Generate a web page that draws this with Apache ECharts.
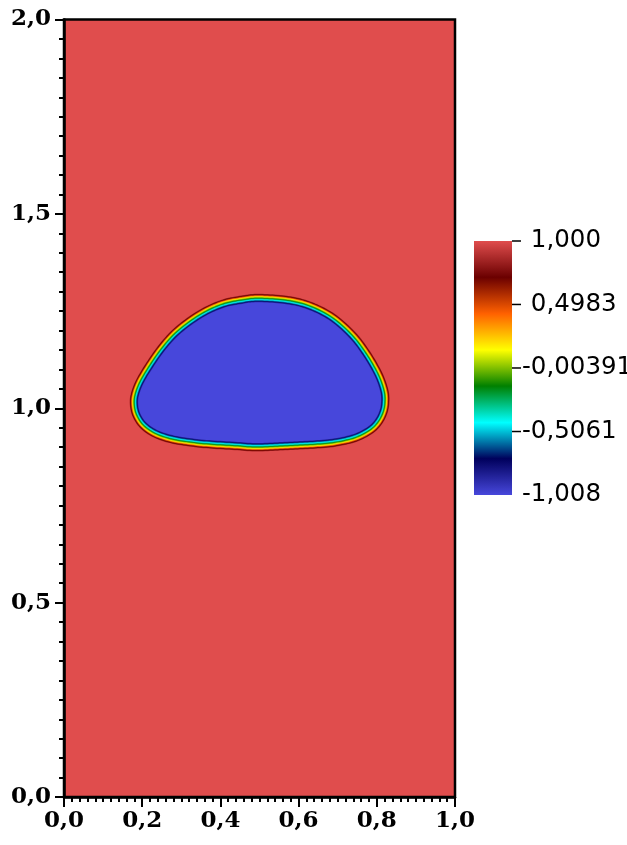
<!DOCTYPE html>
<html><head><meta charset="utf-8">
<script src="https://cdn.jsdelivr.net/npm/echarts@6/dist/echarts.min.js"></script>
<style>html,body{margin:0;padding:0;background:#fff}#c{width:627px;height:845px}</style>
</head><body><div id="c"></div>
<script>
// ---- data ----
const xRange = [0, 1];
const yRange = [0, 2];
const fieldOutside = 1.0;      // value outside the bubble
const fieldInside = -1.008;    // value inside the bubble
// interface contour of the bubble
const bubbleX = [0.4885,0.5396,0.5908,0.6335,0.6760,0.7102,0.7442,0.7698,0.7910,0.8082,0.8192,0.8210,0.8166,0.8038,0.7826,0.7442,0.6931,0.6419,0.5908,0.5396,0.4885,
  0.4373,0.3777,0.3266,0.2754,0.2327,0.2028,0.1859,0.1798,0.1816,0.1944,0.2199,0.2499,0.2839,0.3266,0.3691,0.4118,0.4545];
const bubbleY = [1.2828,1.2810,1.2741,1.2612,1.2399,1.2141,1.1799,1.1455,1.1113,1.0770,1.0426,1.0168,0.9911,0.9654,0.9441,0.9243,0.9124,0.9073,0.9047,0.9021,0.9003,
  0.9037,0.9073,0.9124,0.9209,0.9356,0.9569,0.9826,1.0084,1.0341,1.0683,1.1113,1.1542,1.1928,1.2270,1.2527,1.2700,1.2785];
// values across the thin interface band (outside -> inside)
const bandValues = [0.85,0.72,0.65,0.50,0.35,0.20,0.08,0.0,-0.10,-0.20,-0.30,-0.42,-0.50,-0.58,-0.68,-0.78,-0.88,-1.008];
// colour bar
const cbarMin = -1.008, cbarMax = 1.0;
const cbarTickValues = [1.0, 0.4983, -0.00391, -0.5061, -1.008];
const cbarTickLabels = ['1,000', '0,4983', '-0,00391', '-0,5061', '-1,008'];
const cbarTickShown = [true, true, true, true, false];
// colormap (Rainbow Desaturated)
const cmapPos = [0, 0.143, 0.285, 0.429, 0.571, 0.714, 0.857, 1.0];
const cmapRGB = [[71,71,219],[0,0,92],[0,255,255],[0,128,0],[255,255,0],[255,97,0],[107,0,0],[224,77,77]];

// ---- styling ----
const bandOffsetsPx = [4.5,4,3.5,3,2.5,2,1.5,1,0.5,0,-0.5,-1,-1.5,-2,-2.5,-3,-3.5,-4];
const serif = 'DejaVu Serif';
const cbFont = '24.5px "DejaVu Sans"';

function colorOf(v){
  let t = (v - cbarMin) / (cbarMax - cbarMin);
  t = Math.max(0, Math.min(1, t));
  for (let i = 0; i < cmapPos.length - 1; i++){
    if (t <= cmapPos[i+1]){
      const f = (t - cmapPos[i]) / (cmapPos[i+1] - cmapPos[i]);
      const a = cmapRGB[i], b = cmapRGB[i+1];
      return 'rgb(' + [0,1,2].map(k => Math.round(a[k] + (b[k]-a[k])*f)).join(',') + ')';
    }
  }
  const c = cmapRGB[cmapRGB.length-1];
  return 'rgb(' + c.join(',') + ')';
}
// closed Catmull-Rom curve through pixel points (rendering of a smooth outline)
function splineClosed(pts, sub){
  const n = pts.length, out = [];
  for (let i = 0; i < n; i++){
    const p0 = pts[(i-1+n)%n], p1 = pts[i], p2 = pts[(i+1)%n], p3 = pts[(i+2)%n];
    for (let s = 0; s < sub; s++){
      const t = s / sub, t2 = t*t, t3 = t2*t;
      out.push([0,1].map(k => 0.5*((2*p1[k]) + (-p0[k]+p2[k])*t + (2*p0[k]-5*p1[k]+4*p2[k]-p3[k])*t2 + (-p0[k]+3*p1[k]-3*p2[k]+p3[k])*t3)));
    }
  }
  return out;
}
function offsetPoly(pts, d){
  const n = pts.length; let cx = 0, cy = 0;
  pts.forEach(p => { cx += p[0]; cy += p[1]; }); cx /= n; cy /= n;
  return pts.map((p, i) => {
    const a = pts[(i-1+n)%n], b = pts[(i+1)%n];
    const tx = b[0]-a[0], ty = b[1]-a[1]; const L = Math.hypot(tx, ty) || 1;
    let nx = ty/L, ny = -tx/L;
    if (nx*(p[0]-cx) + ny*(p[1]-cy) < 0){ nx = -nx; ny = -ny; }
    return [p[0]+nx*d, p[1]+ny*d];
  });
}
const fmt1 = v => v.toFixed(1).replace('.', ',');
const mctx = document.createElement('canvas').getContext('2d');
mctx.font = cbFont;
const hyphenW = mctx.measureText('-').width;

const chart = echarts.init(document.getElementById('c'), null, {renderer: 'canvas'});
chart.setOption({
  animation: false,
  backgroundColor: '#fff',
  grid: [
    {left: 64, top: 19.5, width: 391, height: 777.5, show: true, z: 10,
     backgroundColor: 'rgba(0,0,0,0)', borderColor: '#000', borderWidth: 2.5},
    {left: 474, top: 241, width: 38, height: 254, show: false}
  ],
  xAxis: [
    {gridIndex: 0, type: 'value', min: xRange[0], max: xRange[1], interval: 0.2, z: 10,
     axisLine: {show: true, onZero: false, lineStyle: {color: '#000', width: 2.5}},
     axisTick: {show: true, length: 10, lineStyle: {color: '#000', width: 2}},
     minorTick: {show: true, splitNumber: 10, length: 5, lineStyle: {color: '#000', width: 2}},
     splitLine: {show: false}, minorSplitLine: {show: false},
     axisLabel: {formatter: fmt1, color: '#000', fontFamily: serif, fontWeight: 'bold', fontSize: 23, margin: 13}},
    {gridIndex: 1, type: 'value', min: 0, max: 1, show: false}
  ],
  yAxis: [
    {gridIndex: 0, type: 'value', min: yRange[0], max: yRange[1], interval: 0.5, z: 10,
     axisLine: {show: true, onZero: false, lineStyle: {color: '#000', width: 2.5}},
     axisTick: {show: true, length: 9, lineStyle: {color: '#000', width: 2}},
     minorTick: {show: true, splitNumber: 10, length: 5, lineStyle: {color: '#000', width: 2}},
     splitLine: {show: false}, minorSplitLine: {show: false},
     axisLabel: {formatter: fmt1, color: '#000', fontFamily: serif, fontWeight: 'bold', fontSize: 23, margin: 13}},
    {gridIndex: 1, type: 'value', min: cbarMin, max: cbarMax, show: false}
  ],
  series: [
    {type: 'custom', xAxisIndex: 0, yAxisIndex: 0, clip: true, z: 2,
     data: [[0.5, 1.0]],
     renderItem: function(params, api){
       const tl = api.coord([xRange[0], yRange[1]]), br = api.coord([xRange[1], yRange[0]]);
       const pts = splineClosed(bubbleX.map((x, i) => api.coord([x, bubbleY[i]])), 8);
       const children = [{type: 'rect', shape: {x: tl[0], y: tl[1], width: br[0]-tl[0], height: br[1]-tl[1]},
                          style: {fill: colorOf(fieldOutside)}}];
       bandOffsetsPx.forEach((d, i) => {
         const v = (i === bandOffsetsPx.length - 1) ? fieldInside : bandValues[i];
         children.push({type: 'polygon', shape: {points: offsetPoly(pts, d)},
                        style: {fill: colorOf(v)}});
       });
       return {type: 'group', children: children};
     }},
    {type: 'custom', xAxisIndex: 1, yAxisIndex: 1, clip: false, z: 2,
     data: [[0.5, 0]],
     renderItem: function(params, api){
       const tl = api.coord([0, cbarMax]), br = api.coord([1, cbarMin]);
       const stops = cmapPos.map((p, i) => ({offset: p, color: 'rgb(' + cmapRGB[i].join(',') + ')'}));
       const children = [{type: 'rect', shape: {x: tl[0], y: tl[1], width: br[0]-tl[0], height: br[1]-tl[1]},
               style: {fill: new echarts.graphic.LinearGradient(0, 1, 0, 0, stops)}}];
       const xr = br[0];
       cbarTickValues.forEach((v, i) => {
         const y = api.coord([1, v])[1];
         if (cbarTickShown[i]) {
           children.push({type: 'line', shape: {x1: xr, y1: y, x2: xr + 9, y2: y},
                          style: {stroke: '#000', lineWidth: 1.5}});
         }
         const s = cbarTickLabels[i];
         const neg = s.charAt(0) === '-';
         children.push({type: 'text', x: xr + 10 + (neg ? 0 : hyphenW), y: y,
                        style: {text: s, fill: '#000', font: cbFont, textAlign: 'left', textVerticalAlign: 'middle'}});
       });
       return {type: 'group', children: children};
     }}
  ]
});
</script>
</body></html>
